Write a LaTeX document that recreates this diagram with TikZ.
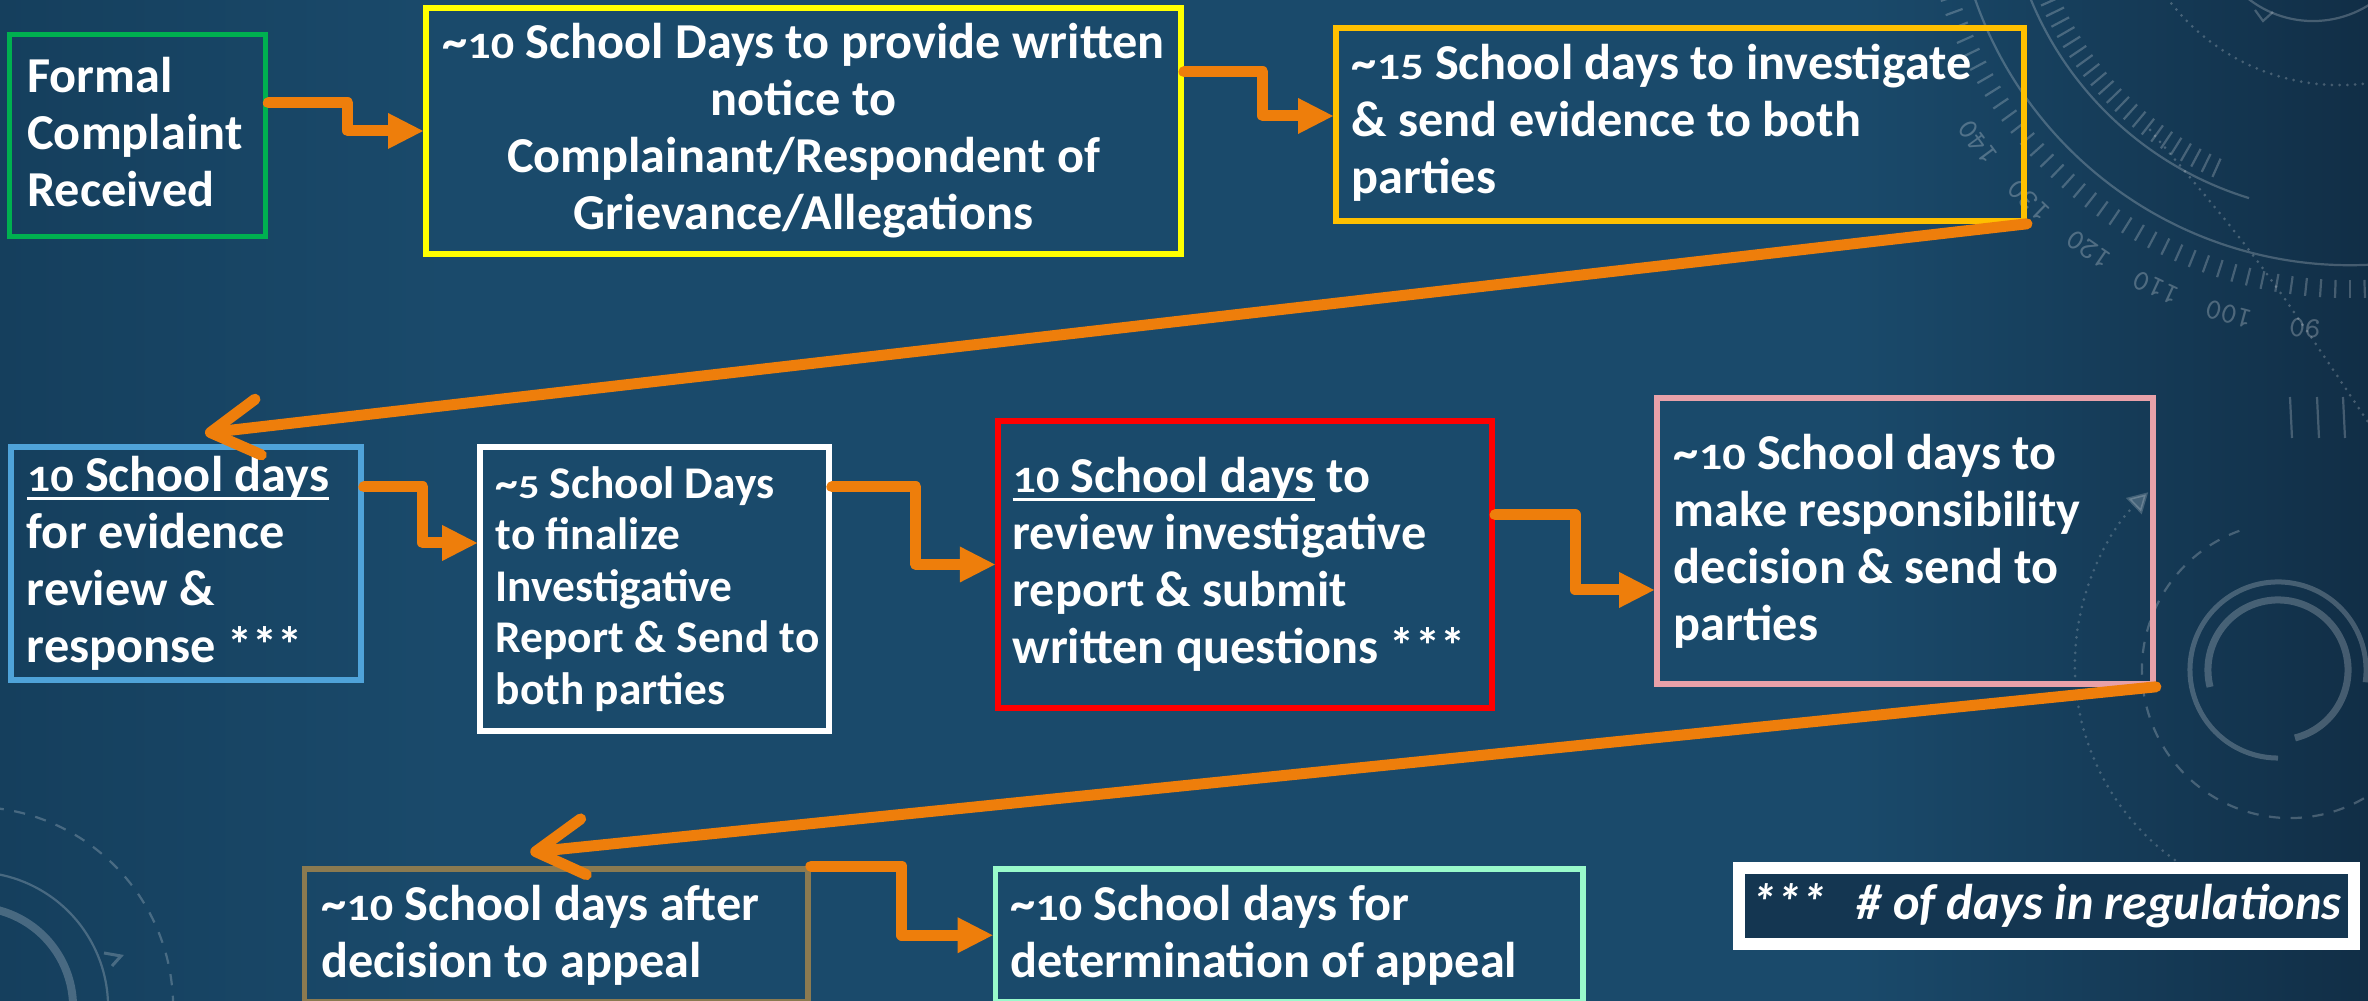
\documentclass[tikz,border=0pt]{standalone}
\usepackage{fontspec}
\usepackage{graphicx}
\setmainfont{Carlito}
\newcommand\on[1]{\scalebox{0.92}[0.74]{#1}}
\usetikzlibrary{arrows.meta,calc}
\definecolor{bgL}{HTML}{153F5D}
\definecolor{bgM}{HTML}{1A4A6B}
\definecolor{bgR}{HTML}{112E46}
\definecolor{arrowc}{HTML}{EE7E0B}
\definecolor{cGreen}{HTML}{00B050}
\definecolor{cYellow}{HTML}{FFFF00}
\definecolor{cGold}{HTML}{FFC000}
\definecolor{cBlue}{HTML}{4FA3D9}
\definecolor{cRed}{HTML}{FF0000}
\definecolor{cPink}{HTML}{E8A1A9}
\definecolor{cBrown}{HTML}{8B7A50}
\definecolor{cMint}{HTML}{99FACB}
\definecolor{legfill}{HTML}{143651}
\newsavebox\ulbox
\newcommand\myul[1]{\sbox\ulbox{#1}\rlap{\rule[-2.3pt]{\wd\ulbox}{0.85pt}}\usebox\ulbox}
\begin{document}
\begin{tikzpicture}[x=0.01cm,y=-0.01cm,
  box/.style={draw, line width=0.055cm, inner sep=0pt, rectangle},
  txt/.style={text=white, font=\bfseries\fontsize{14.3}{16.2}\selectfont, align=left, inner sep=0pt},
  conn/.style={draw=arrowc, line width=0.11cm, line join=round, line cap=round, -{Triangle[length=0.35cm,width=0.36cm,line width=0pt]}},
  barb/.style={draw=arrowc, line width=0.11cm, line cap=round, line join=round, -{Straight Barb[length=0.48cm,width=0.56cm,round]}},
  deco/.style={draw=white, draw opacity=0.22, line width=0.022cm},
  decotxt/.style={text=white, text opacity=0.25, font=\ttfamily\fontsize{8.4}{9}\selectfont, inner sep=0pt}]
\useasboundingbox (0,0) rectangle (2368,1001);
% background
\fill[bgM] (0,0) rectangle (2368,1001);
\shade[left color=bgL, right color=bgM] (0,0) rectangle (450,1001);
\shade[left color=bgM, right color=bgR] (1850,0) rectangle (2368,1001);
\begin{scope}
\clip (0,0) rectangle (2368,1001);
% protractor top right
\coordinate (C1) at (2350,-132);
\draw[deco] ($(C1)+(195:3.97cm)$) arc[start angle=195, end angle=300, radius=3.97cm];
\foreach \a in {194,196,...,292} \draw[deco] ($(C1)+(\a:4.12cm)$) -- ($(C1)+(\a:4.30cm)$);
\foreach \n/\a in {90/-95.6,100/-105.2,110/-114.8,120/-124.4,130/-134,140/-143.6}
  \node[decotxt, rotate=\a-90] at ($(C1)+(\a:4.62cm)$) {\n};
\draw[deco] ($(C1)+(200:3.45cm)$) arc[start angle=200, end angle=253, radius=3.45cm];
\foreach \a in {200,202,...,246} \draw[deco] ($(C1)+(\a:3.18cm)$) -- ($(C1)+(\a:3.38cm)$);
\draw[deco, line width=0.03cm, line cap=round, dash pattern=on 0pt off 2.2pt] (2340,-130) circle[radius=2.15cm];
\draw[deco] (2313,-84) circle[radius=1.05cm];
\draw[deco] (2255,10) -- (2263,21) -- (2273,12);
\draw[deco, line width=0.03cm, line cap=round, dash pattern=on 0pt off 2.2pt] (2150,130) .. controls (2260,260) .. (2380,440);
\foreach \x in {2290,2317,2343} \draw[deco] (\x,397) -- (\x+2,438);
% right middle group
\draw[white, opacity=0.2, line width=0.03cm, line cap=round, dash pattern=on 0pt off 2.2pt, -{Triangle[length=0.2cm,width=0.22cm]}] ($(2315,665)+(262:2.4cm)$) arc[start angle=262, end angle=134, radius=2.4cm];
\draw[deco, dash pattern=on 3.2pt off 3pt] ($(2290,670)+(110:1.48cm)$) arc[start angle=110, end angle=305, radius=1.48cm];
\draw[deco, line width=0.05cm] ($(2278,670)+(-8:0.88cm)$) arc[start angle=-8, end angle=270, radius=0.88cm];
\draw[deco, line width=0.07cm] ($(2278,670)+(-76:0.70cm)$) arc[start angle=-76, end angle=194, radius=0.70cm];
% bottom left group
\draw[deco, dash pattern=on 3.2pt off 3pt] ($(-27,1007)+(0:2cm)$) arc[start angle=0, end angle=100, radius=2cm];
\draw[deco] ($(-27,1007)+(0:1.35cm)$) arc[start angle=0, end angle=100, radius=1.35cm];
\draw[deco, line width=0.08cm] ($(-27,1007)+(0:1.0cm)$) arc[start angle=0, end angle=100, radius=1.0cm];
\draw[deco, line width=0.03cm] (104,953) -- (121,956) -- (112,966);
\end{scope}
% boxes
\node[box, draw=cGreen, minimum width=2.56cm, minimum height=2.02cm] (g) at (137.5,135.5) {};
\node[box, draw=cYellow, minimum width=7.55cm, minimum height=2.46cm] (y) at (803.5,131) {};
\node[box, draw=cGold, minimum width=6.88cm, minimum height=1.93cm] (o) at (1680,124.5) {};
\node[box, draw=cBlue, minimum width=3.50cm, minimum height=2.33cm] (b) at (186,563.5) {};
\node[box, draw=white, minimum width=3.49cm, minimum height=2.84cm] (w) at (654.5,589) {};
\node[box, draw=cRed, line width=0.06cm, minimum width=4.94cm, minimum height=2.87cm] (r) at (1245,564.5) {};
\node[box, draw=cPink, minimum width=4.96cm, minimum height=2.86cm] (p) at (1905,541) {};
\node[box, draw=cBrown, minimum width=5.035cm, minimum height=1.325cm] (br) at (556.25,935.25) {};
\node[box, draw=cMint, minimum width=5.875cm, minimum height=1.325cm] (m) at (1289.25,935.25) {};
\node[box, draw=white, fill=legfill, line width=0.12cm, minimum width=6.15cm, minimum height=0.76cm] (leg) at (2046.5,906) {};
% texts
\node[txt, anchor=west] (gt) at ([xshift=0.2cm,yshift=0.03cm]g.west) {Formal\\Complaint\\Received};
\node[txt, align=center] (yt) at (y.center) {\textasciitilde\on{10} School Days to provide written\\notice to\\Complainant/Respondent of\\Grievance/Allegations};
\node[txt, anchor=west] (ot) at ([xshift=0.18cm,yshift=0.02cm]o.west) {\textasciitilde\on{15} School days to investigate\\\& send evidence to both\\parties};
\node[txt, anchor=west] (bt) at ([xshift=0.18cm]b.west) {\myul{\on{10} School days}\\for evidence\\review \&\\response ***};
\node[txt, anchor=west, font=\bfseries\fontsize{12.9}{14.6}\selectfont] (wt) at ([xshift=0.18cm]w.west) {\textasciitilde\on{5} School Days\\to finalize\\Investigative\\Report \& Send to\\both parties};
\node[txt, anchor=west] (rt) at ([xshift=0.17cm]r.west) {\myul{\on{10} School days} to\\review investigative\\report \& submit\\written questions ***};
\node[txt, anchor=west] (pt) at ([xshift=0.19cm]p.west) {\textasciitilde\on{10} School days to\\make responsibility\\decision \& send to\\parties};
\node[txt, anchor=west] (brt) at ([xshift=0.19cm]br.west) {\textasciitilde\on{10} School days after\\decision to appeal};
\node[txt, anchor=west] (mt) at ([xshift=0.17cm]m.west) {\textasciitilde\on{10} School days for\\determination of appeal};
\node[txt, font=\bfseries\itshape\fontsize{14.3}{16.2}\selectfont] (lt) at (leg.center) {***\hspace{0.6em}\# of days in regulations};
% connectors
\draw[conn] ($(g.east)+(0,-32.5)$) -- ++(79.5,0) |- (y.west);
\draw[conn] ($(y.east)+(0,-59)$) -- ++(79,0) |- ($(o.west)+(0,-8.5)$);
\draw[barb] (o.south east) -- ($(b.north)+(19,-11)$);
\draw[conn] ($(b.east)+(0,-76.5)$) -- ++(59,0) |- ($(w.west)+(0,-46)$);
\draw[conn] ($(w.east)+(0,-102)$) -- ++(84,0) |- (r.west);
\draw[conn] ($(r.east)+(0,-49.5)$) -- ++(80,0) |- ($(p.west)+(0,49)$);
\draw[barb] (p.south east) -- ($(br.north)+(-26,-14)$);
\draw[conn] (br.north east) -- ++(91,0) |- (m.west);
\end{tikzpicture}
\end{document}
